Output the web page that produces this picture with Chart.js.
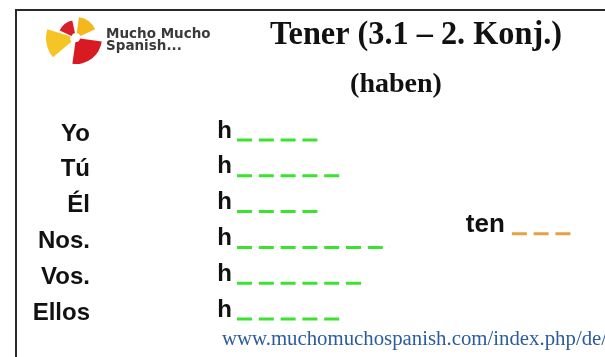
<!DOCTYPE html>
<html>
<head>
<meta charset="utf-8">
<script src="https://cdn.jsdelivr.net/npm/chart.js@4/dist/chart.umd.min.js"></script>
<style>
  html, body { margin: 0; padding: 0; background: #fff; }
  canvas { display: block; }
</style>
</head>
<body>
<canvas id="c" width="605" height="357"></canvas>
<script>
// ---- data ----
const pronouns = ['Yo', 'Tú', 'Él', 'Nos.', 'Vos.', 'Ellos'];
const stems = ['h', 'h', 'h', 'h', 'h', 'h'];
const blankCounts = [4, 5, 4, 7, 6, 5];
const endingLabel = 'ten';
const endingBlanks = 3;
const endingRow = 2.62;
const endingStart = 12.6;
const titleText = 'Tener (3.1 \u2013 2. Konj.)';
const subtitleText = '(haben)';
const logoLines = ['Mucho Mucho', 'Spanish...'];
const urlText = 'www.muchomuchospanish.com/index.php/de/';

const GREEN = 'rgb(58,228,46)';
const ORANGE = 'rgb(232,160,64)';

const datasets = blankCounts.map((n, i) => ({
  label: pronouns[i],
  data: [{ x: 0, y: i }, { x: n, y: i }],
  showLine: true,
  borderColor: GREEN,
  borderWidth: 3,
  borderDash: [15, 6.8],
  borderCapStyle: 'butt',
  pointRadius: 0,
  clip: false
}));
datasets.push({
  label: endingLabel,
  data: [{ x: endingStart, y: endingRow }, { x: endingStart + endingBlanks, y: endingRow }],
  showLine: true,
  borderColor: ORANGE,
  borderWidth: 3,
  borderDash: [15, 6.8],
  borderCapStyle: 'butt',
  pointRadius: 0,
  clip: false,
  isEnding: true
});

function sector(ctx, cx, cy, r0, r1, a0, a1, color) {
  const d = Math.PI / 180;
  ctx.beginPath();
  ctx.arc(cx, cy, r1, a0 * d, a1 * d);
  ctx.arc(cx, cy, r0, a1 * d, a0 * d, true);
  ctx.closePath();
  ctx.fillStyle = color;
  ctx.fill();
}

const decor = {
  id: 'decor',
  beforeDraw(chart) {
    const ctx = chart.ctx;
    ctx.save();
    ctx.fillStyle = '#fff';
    ctx.fillRect(0, 0, chart.width, chart.height);
    // frame
    ctx.strokeStyle = '#2a2a2a';
    ctx.lineWidth = 2;
    ctx.beginPath();
    ctx.moveTo(16, chart.height);
    ctx.lineTo(16, 10);
    ctx.lineTo(chart.width, 10);
    ctx.stroke();
    // logo
    const cx = 76, cy = 38;
    ctx.lineJoin = 'round';
    sector(ctx, cx, cy, 5, 18, 205, 258, '#d9202a');
    sector(ctx, cx, cy, 5, 21, 278, 335, '#f4b81c');
    sector(ctx, cx, cy, 6, 30, 140, 197, '#f5c526');
    sector(ctx, cx, cy, 4, 26, 8, 98, '#d81a22');
    ctx.fillStyle = '#3a3a3a';
    ctx.font = 'bold 13.5px "DejaVu Sans"';
    ctx.textBaseline = 'alphabetic';
    ctx.textAlign = 'left';
    ctx.fillText(logoLines[0], 106, 38);
    ctx.fillText(logoLines[1], 106, 50);
    // titles
    ctx.fillStyle = '#111';
    ctx.font = 'bold 33px "Liberation Serif"';
    ctx.fillText(titleText, 270, 44, 292);
    ctx.font = 'bold 28px "Liberation Serif"';
    ctx.textAlign = 'center';
    ctx.fillText(subtitleText, 396, 92);
    // url
    ctx.textAlign = 'left';
    ctx.fillStyle = '#2b5c9e';
    ctx.font = '20.8px "Liberation Serif"';
    ctx.fillText(urlText, 222, 345);
    ctx.restore();
  },
  afterDatasetsDraw(chart) {
    const ctx = chart.ctx;
    chart.data.datasets.forEach((ds, i) => {
      if (!ds.isEnding) return;
      const pt = chart.getDatasetMeta(i).data[0];
      ctx.save();
      ctx.fillStyle = '#111';
      ctx.font = 'bold 26px "Liberation Sans"';
      ctx.textAlign = 'right';
      ctx.textBaseline = 'alphabetic';
      ctx.fillText(ds.label, pt.x - 7, pt.y - 2);
      ctx.restore();
    });
  }
};

new Chart(document.getElementById('c'), {
  type: 'scatter',
  data: { datasets },
  options: {
    responsive: false,
    devicePixelRatio: 1,
    animation: false,
    events: [],
    layout: { padding: { left: 0, right: 19, top: 122, bottom: 20 } },
    plugins: { legend: { display: false }, tooltip: { enabled: false }, title: { display: false } },
    scales: {
      x: { type: 'linear', min: 0, max: 16, display: false },
      y: { type: 'linear', min: -0.5, max: 5.5, reverse: true, display: false },
      yP: {
        type: 'category', labels: pronouns, offset: true, position: 'left', weight: 2,
        grid: { display: false, drawTicks: false }, border: { display: false },
        ticks: { autoSkip: false, padding: 0, labelOffset: -6, color: '#111',
                 font: { family: '"Liberation Sans"', size: 24, weight: 'bold' } },
        afterFit(s) { s.width = 90; }
      },
      yH: {
        type: 'category', labels: stems, offset: true, position: 'left', weight: 1,
        grid: { display: false, drawTicks: false }, border: { display: false },
        ticks: { autoSkip: false, padding: 5, labelOffset: -9, color: '#111',
                 font: { family: '"Liberation Sans"', size: 24, weight: 'bold' } },
        afterFit(s) { s.width = 147; }
      }
    }
  },
  plugins: [decor]
});
</script>
</body>
</html>
